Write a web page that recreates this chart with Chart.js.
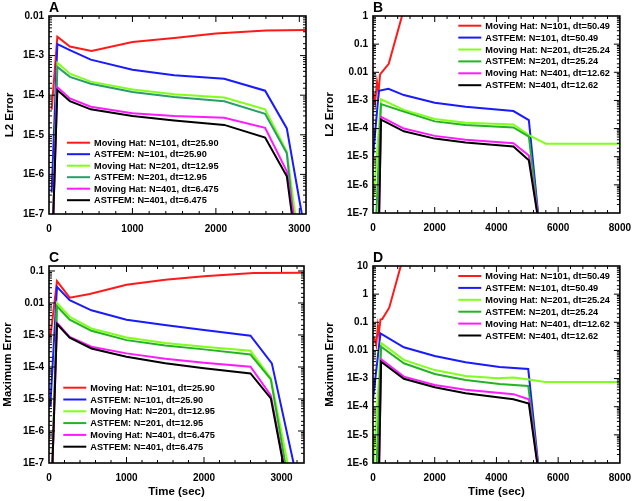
<!DOCTYPE html>
<html lang="en">
<head>
    <meta charset="UTF-8">
    <title>ASTFEM vs Moving Hat error</title>
    <script src="https://cdn.jsdelivr.net/npm/chart.js"></script>
    <style>
        body { margin: 0; background: #fff; }
        canvas { position: absolute; }
    </style>
</head>
<body>
<canvas id="chartA" style="left:0;top:0" width="320" height="250"></canvas>
<canvas id="chartB" style="left:320px;top:0" width="320" height="250"></canvas>
<canvas id="chartC" style="left:0;top:250px" width="320" height="251"></canvas>
<canvas id="chartD" style="left:320px;top:250px" width="320" height="251"></canvas>

<script>
    // legend labels
    const labelsLeft = ['Moving Hat: N=101, dt=25.90', 'ASTFEM: N=101, dt=25.90', 'Moving Hat: N=201, dt=12.95',
        'ASTFEM: N=201, dt=12.95', 'Moving Hat: N=401, dt=6.475', 'ASTFEM: N=401, dt=6.475'];
    const labelsRight = ['Moving Hat: N=101, dt=50.49', 'ASTFEM: N=101, dt=50.49', 'Moving Hat: N=201, dt=25.24',
        'ASTFEM: N=201, dt=25.24', 'Moving Hat: N=401, dt=12.62', 'ASTFEM: N=401, dt=12.62'];

    // panel A : L2 error, [time, value]
    const aMH101 = [[32, 4.3e-5], [100, 3.0e-3], [250, 1.7e-3], [510, 1.3e-3], [1000, 2.2e-3], [1500, 2.8e-3], [2000, 3.6e-3], [2600, 4.3e-3], [3080, 4.4e-3]];
    const aAST101 = [[32, 3.5e-7], [100, 1.95e-3], [250, 1.38e-3], [500, 7.9e-4], [1000, 4.4e-4], [1500, 3.2e-4], [2100, 2.6e-4], [2590, 1.3e-4], [2850, 1.45e-5], [3030, 1e-7]];
    const aMH201 = [[52, 1e-7], [100, 6.6e-4], [250, 3.5e-4], [500, 2.2e-4], [1000, 1.4e-4], [1500, 1.05e-4], [2100, 8.7e-5], [2590, 4.4e-5], [2850, 3.8e-6], [2950, 1e-7]];
    const aAST201 = [[52, 1e-7], [100, 5.2e-4], [250, 2.9e-4], [500, 1.95e-4], [1000, 1.2e-4], [1500, 9.0e-5], [2100, 7.0e-5], [2590, 3.4e-5], [2850, 3.4e-6], [2925, 1e-7]];
    const aMH401 = [[52, 1e-7], [100, 1.6e-4], [250, 8.3e-5], [500, 5.1e-5], [1000, 3.5e-5], [1500, 3.0e-5], [2100, 2.7e-5], [2590, 1.5e-5], [2850, 1.2e-6], [2930, 1e-7]];
    const aAST401 = [[52, 1e-7], [100, 1.35e-4], [250, 7.1e-5], [500, 4.4e-5], [1000, 3.0e-5], [1500, 2.3e-5], [2100, 1.78e-5], [2590, 8.5e-6], [2850, 9e-7], [2910, 1e-7]];

    // panel B : L2 error
    const bMH101 = [[20, 1.8e-3], [70, 9e-4], [130, 4.5e-3], [180, 2.0e-3], [230, 8.5e-3], [510, 0.02], [940, 1.0], [1000, 1.6]];
    const bAST101 = [[0, 1e-5], [190, 2.2e-3], [500, 2.6e-3], [1000, 1.55e-3], [2000, 8.3e-4], [3000, 6.0e-4], [4550, 4.2e-4], [5050, 2.0e-4], [5350, 1e-7]];
    const bMH201 = [[20, 3.4e-7], [260, 1.1e-3], [1000, 4.6e-4], [2000, 2.2e-4], [3000, 1.6e-4], [4550, 1.4e-4], [5050, 5.9e-5], [5600, 2.9e-5], [8000, 2.9e-5]];
    const bAST201 = [[110, 1e-7], [260, 7.4e-4], [1000, 4.0e-4], [2000, 1.8e-4], [3000, 1.35e-4], [4550, 1.1e-4], [5050, 5.2e-5], [5340, 1e-7]];
    const bMH401 = [[200, 1e-7], [260, 2.6e-4], [1000, 1.0e-4], [2000, 5.5e-5], [3000, 4.0e-5], [4550, 3.0e-5], [5050, 1.1e-5], [5330, 1e-7]];
    const bAST401 = [[200, 1e-7], [260, 2.1e-4], [1000, 8.0e-5], [2000, 4.4e-5], [3000, 3.2e-5], [4550, 2.3e-5], [5050, 7.5e-6], [5320, 1e-7]];

    // panel C : maximum error
    const cMH101 = [[17, 8.3e-4], [103, 0.048], [267, 0.0147], [526, 0.019], [1000, 0.037], [1500, 0.053], [2000, 0.068], [2640, 0.087], [3290, 0.088]];
    const cAST101 = [[17, 6e-6], [103, 0.032], [267, 0.0122], [547, 5.9e-3], [1000, 3.0e-3], [1517, 2.0e-3], [2000, 1.42e-3], [2600, 9.5e-4], [2875, 1.3e-4], [3155, 1e-7]];
    const cMH201 = [[45, 1e-7], [103, 0.010], [267, 3.7e-3], [547, 1.6e-3], [1000, 8.3e-4], [1500, 5.6e-4], [2000, 4.3e-4], [2600, 3.2e-4], [2862, 4.5e-5], [3078, 1e-7]];
    const cAST201 = [[45, 1e-7], [103, 7.9e-3], [267, 3.0e-3], [547, 1.35e-3], [1000, 6.9e-4], [1500, 4.7e-4], [2000, 3.55e-4], [2600, 2.45e-4], [2862, 4.1e-5], [3047, 1e-7]];
    const cMH401 = [[45, 1e-7], [103, 2.4e-3], [267, 8.7e-4], [547, 4.3e-4], [1000, 2.66e-4], [1500, 1.8e-4], [2000, 1.36e-4], [2600, 1.02e-4], [2862, 1.3e-5], [3026, 1e-7]];
    const cAST401 = [[45, 1e-7], [103, 2.2e-3], [267, 8.3e-4], [547, 3.8e-4], [1000, 2.1e-4], [1500, 1.3e-4], [2000, 9.1e-5], [2600, 6.3e-5], [2862, 1.05e-5], [3020, 1e-7]];

    // panel D : maximum error
    const dMH101 = [[0, 0.031], [50, 0.026], [105, 0.0155], [158, 0.072], [190, 0.040], [242, 0.126], [300, 0.13], [526, 0.33], [900, 10], [950, 15]];
    const dAST101 = [[0, 1.85e-4], [242, 0.040], [1000, 0.0129], [2000, 6.3e-3], [3000, 3.8e-3], [4100, 2.6e-3], [5030, 2.2e-3], [5350, 1e-6]];
    const dMH201 = [[20, 1e-6], [263, 0.0186], [1000, 4.6e-3], [2000, 2.0e-3], [3000, 1.23e-3], [4050, 1.02e-3], [4550, 1.1e-3], [5050, 9.3e-4], [5580, 7.6e-4], [8000, 7.6e-4]];
    const dAST201 = [[120, 1e-6], [263, 0.0135], [1000, 3.5e-3], [2000, 1.45e-3], [3000, 8.9e-4], [4100, 6.4e-4], [5030, 5.5e-4], [5340, 1e-6]];
    const dMH401 = [[200, 1e-6], [263, 4.9e-3], [1000, 1.17e-3], [2000, 5.9e-4], [3000, 4.0e-4], [4550, 2.8e-4], [5050, 1.85e-4], [5330, 1e-6]];
    const dAST401 = [[200, 1e-6], [263, 4.0e-3], [1000, 9.8e-4], [2000, 4.9e-4], [3000, 3.0e-4], [4550, 1.85e-4], [5050, 1.3e-4], [5320, 1e-6]];

    const FONT = '"Liberation Sans", Arial, sans-serif';
    const colorsA = ['#ff1a1a', '#1a1aff', '#80ff1a', '#2a9e6a', '#ff1aff', '#000000'];
    const colorsB = ['#ff1a1a', '#1a1aff', '#80ff1a', '#22b522', '#ff1aff', '#000000'];

    const isPow10 = v => Math.abs(Math.log10(v) - Math.round(Math.log10(v))) < 1e-6;

    const logLabel = v => {
        if (!isPow10(v)) return '';
        const e = Math.round(Math.log10(v));
        if (e >= 0) return String(Math.pow(10, e));
        if (e >= -2) return Math.pow(10, e).toFixed(-e);
        return '1E' + e;
    };

    // frame, inward ticks on all four sides, panel letter, legend
    const panelPlugin = {
        id: 'panel',
        afterDatasetsDraw(chart, args, opts) {
            const {ctx, chartArea: a, scales: {x, y}} = chart;
            ctx.save();
            ctx.strokeStyle = '#000';
            ctx.lineWidth = 1;
            ctx.beginPath();
            x.ticks.forEach(t => {
                const p = x.getPixelForValue(t.value);
                if (p <= a.left + 1 || p >= a.right - 1) return;
                const len = t.value % opts.xMajor === 0 ? 6 : 3;
                ctx.moveTo(p, a.bottom); ctx.lineTo(p, a.bottom - len);
                ctx.moveTo(p, a.top); ctx.lineTo(p, a.top + len);
            });
            y.ticks.forEach(t => {
                const p = y.getPixelForValue(t.value);
                if (p <= a.top + 1 || p >= a.bottom - 1) return;
                const len = isPow10(t.value) ? 6 : 3;
                ctx.moveTo(a.left, p); ctx.lineTo(a.left + len, p);
                ctx.moveTo(a.right, p); ctx.lineTo(a.right - len, p);
            });
            ctx.stroke();
            ctx.lineWidth = 1.6;
            ctx.strokeRect(a.left, a.top, a.right - a.left, a.bottom - a.top);

            ctx.fillStyle = '#000';
            ctx.font = 'bold 14px ' + FONT;
            ctx.textBaseline = 'alphabetic';
            ctx.textAlign = 'left';
            ctx.fillText(opts.letter, a.left, a.top - 4);

            ctx.font = 'bold 9.2px ' + FONT;
            ctx.textBaseline = 'middle';
            chart.data.datasets.forEach((ds, i) => {
                const yy = opts.legendY + i * opts.legendDy;
                ctx.strokeStyle = ds.borderColor;
                ctx.lineWidth = 2;
                ctx.beginPath();
                ctx.moveTo(opts.legendX, yy);
                ctx.lineTo(opts.legendX + 23, yy);
                ctx.stroke();
                ctx.fillText(ds.label, opts.legendX + 27, yy + 0.5);
            });
            ctx.restore();
        }
    };

    const makeChart = (id, cfg) => {
        const canvas = document.getElementById(id);
        const datasets = cfg.series.map((s, i) => ({
            label: cfg.labels[i],
            data: s.map(p => ({x: p[0], y: p[1]})),
            borderColor: cfg.colors[i],
            borderWidth: 2,
            pointRadius: 0,
            fill: false,
            tension: 0,
            order: cfg.series.length - i
        }));
        return new Chart(canvas.getContext('2d'), {
            type: 'line',
            data: {datasets: datasets},
            options: {
                responsive: false,
                animation: false,
                layout: {padding: {left: 0, top: cfg.area.top, right: canvas.width - cfg.area.right, bottom: 0}},
                scales: {
                    x: {
                        type: 'linear',
                        min: 0,
                        max: cfg.xMax,
                        grid: {display: false, drawTicks: false},
                        border: {display: false},
                        afterFit: s => { s.height = canvas.height - cfg.area.bottom; },
                        ticks: {
                            stepSize: cfg.xMinor,
                            includeBounds: false,
                            autoSkip: false,
                            maxRotation: 0,
                            padding: 9,
                            color: '#000',
                            font: {family: FONT, size: 10, weight: 'bold'},
                            callback: v => (v % cfg.xMajor === 0 ? String(v) : '')
                        },
                        title: {
                            display: !!cfg.xTitle,
                            text: cfg.xTitle || '',
                            color: '#000',
                            font: {family: FONT, size: 11.5, weight: 'bold'},
                            padding: {top: 0, bottom: 2}
                        }
                    },
                    y: {
                        type: 'logarithmic',
                        min: cfg.yMin,
                        max: cfg.yMax,
                        grid: {display: false, drawTicks: false},
                        border: {display: false},
                        afterFit: s => { s.width = cfg.area.left; },
                        ticks: {
                            autoSkip: false,
                            padding: 5,
                            color: '#000',
                            font: {family: FONT, size: 10, weight: 'bold'},
                            callback: v => logLabel(v)
                        },
                        title: {
                            display: true,
                            text: cfg.yTitle,
                            color: '#000',
                            font: {family: FONT, size: 11.5, weight: 'bold'},
                            padding: {top: cfg.yTitlePad, bottom: 0}
                        }
                    }
                },
                plugins: {
                    legend: {display: false},
                    tooltip: {enabled: false},
                    panel: {
                        letter: cfg.letter,
                        xMajor: cfg.xMajor,
                        legendX: cfg.legendX,
                        legendY: cfg.legendY,
                        legendDy: cfg.legendDy
                    }
                }
            },
            plugins: [panelPlugin]
        });
    };

    makeChart('chartA', {
        letter: 'A', labels: labelsLeft, colors: colorsA,
        series: [aMH101, aAST101, aMH201, aAST201, aMH401, aAST401],
        area: {left: 49, right: 306, top: 16, bottom: 214},
        xMax: 3080, xMinor: 200, xMajor: 1000,
        yMin: 1e-7, yMax: 0.01, yTitle: 'L2 Error', yTitlePad: 3,
        legendX: 67, legendY: 142.7, legendDy: 11.5
    });

    makeChart('chartB', {
        letter: 'B', labels: labelsRight, colors: colorsB,
        series: [bMH101, bAST101, bMH201, bAST201, bMH401, bAST401],
        area: {left: 53, right: 307, top: 16, bottom: 213},
        xMax: 8000, xMinor: 400, xMajor: 2000,
        yMin: 1e-7, yMax: 1, yTitle: 'L2 Error', yTitlePad: 3,
        legendX: 138.3, legendY: 25.7, legendDy: 11.9
    });

    makeChart('chartC', {
        letter: 'C', labels: labelsLeft, colors: colorsB,
        series: [cMH101, cAST101, cMH201, cAST201, cMH401, cAST401],
        area: {left: 49, right: 304, top: 16, bottom: 213},
        xMax: 3290, xMinor: 200, xMajor: 1000, xTitle: 'Time (sec)',
        yMin: 1e-7, yMax: 0.143, yTitle: 'Maximum Error', yTitlePad: 1,
        legendX: 63.3, legendY: 137.7, legendDy: 11.8
    });

    makeChart('chartD', {
        letter: 'D', labels: labelsRight, colors: colorsB,
        series: [dMH101, dAST101, dMH201, dAST201, dMH401, dAST401],
        area: {left: 53, right: 307, top: 16, bottom: 213},
        xMax: 8000, xMinor: 400, xMajor: 2000, xTitle: 'Time (sec)',
        yMin: 1e-6, yMax: 10, yTitle: 'Maximum Error', yTitlePad: 3,
        legendX: 138.3, legendY: 26, legendDy: 11.9
    });
</script>
</body>
</html>
